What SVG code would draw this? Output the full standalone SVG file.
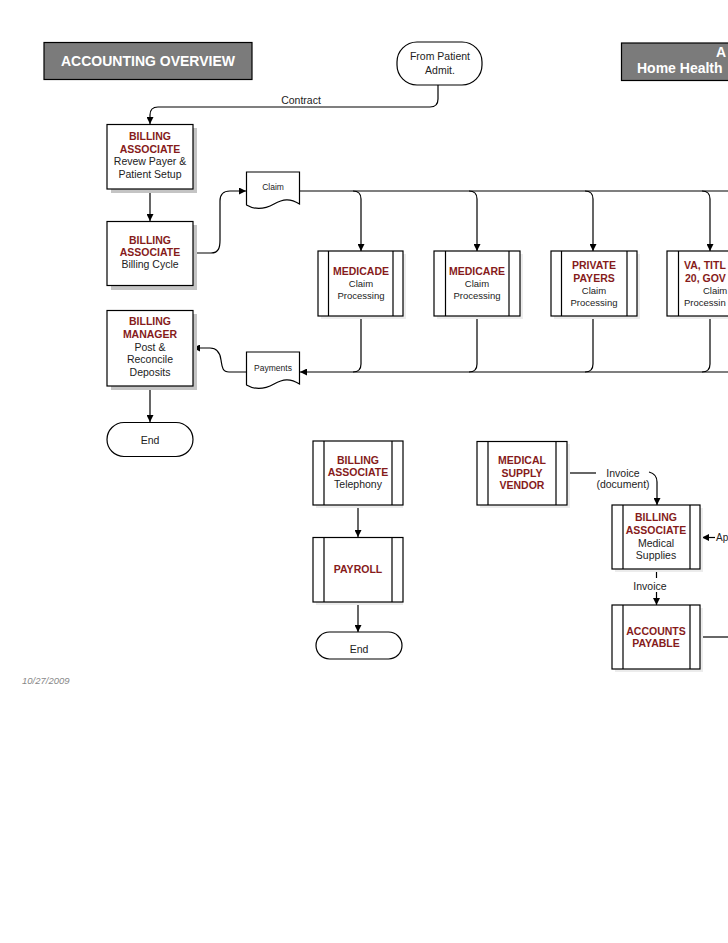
<svg xmlns="http://www.w3.org/2000/svg" width="728" height="943" viewBox="0 0 728 943">
<defs>
<marker id="arr" viewBox="0 0 10 10" refX="10" refY="5" markerWidth="7" markerHeight="7" markerUnits="userSpaceOnUse" orient="auto">
<path d="M0,0 L10,5 L0,10 Z" fill="#000"/>
</marker>
<style>
text{font-family:"Liberation Sans",Arial,sans-serif;}
.box{fill:#fff;stroke:#000;stroke-width:1.2;}
.sh{fill:#c4c4c4;}
.sh2{fill:#ececec;}
.ln{fill:none;stroke:#000;stroke-width:1.2;}
.t{font-size:10.5px;fill:#222;text-anchor:middle;}
.s{font-size:9.5px;fill:#222;text-anchor:middle;}
.b{font-size:10.5px;font-weight:bold;fill:#861b1b;text-anchor:middle;}
.h{font-size:14px;font-weight:bold;fill:#fff;}
.title{fill:#7b7b7b;stroke:#000;stroke-width:1.2;}
</style>
</defs>
<rect width="728" height="943" fill="#fff"/>

<g id="title-left">
<rect class="title" x="44" y="42.5" width="208" height="37"/>
<text class="h" x="148" y="66" text-anchor="middle">ACCOUNTING OVERVIEW</text>
</g>
<g id="title-right">
<rect class="title" x="621.5" y="43" width="120" height="37.5"/>
<text class="h" x="716" y="56.5">A</text>
<text class="h" x="637" y="72.5">Home Health</text>
</g>

<g id="connectors">
<path class="ln" d="M438,85 V99 Q438,107 430,107 H158 Q150,107 150,115 V124" marker-end="url(#arr)"/>
<path class="ln" d="M150,189 V221" marker-end="url(#arr)"/>
<path class="ln" d="M193,253 H211 C219,253 220,247 220,240 V201 C220,194 223,191 230,191 H246" marker-end="url(#arr)"/>
<path class="ln" d="M300,191 H728"/>
<path class="ln" d="M353,191 Q361,191 361,199 V251" marker-end="url(#arr)"/>
<path class="ln" d="M469,191 Q477,191 477,199 V251" marker-end="url(#arr)"/>
<path class="ln" d="M585,191 Q593,191 593,199 V251" marker-end="url(#arr)"/>
<path class="ln" d="M702,191 Q710,191 710,199 V251" marker-end="url(#arr)"/>
<path class="ln" d="M728,372 H300" marker-end="url(#arr)"/>
<path class="ln" d="M361,316 V364 Q361,372 353,372"/>
<path class="ln" d="M477,316 V364 Q477,372 469,372"/>
<path class="ln" d="M593,316 V364 Q593,372 585,372"/>
<path class="ln" d="M710,316 V364 Q710,372 702,372"/>
<path class="ln" d="M246,372 H229 C222,372 222,366 221,360 C220,352 217,348 210,348 H193" marker-end="url(#arr)"/>
<path class="ln" d="M150,386 V422" marker-end="url(#arr)"/>
<path class="ln" d="M358,505 V537" marker-end="url(#arr)"/>
<path class="ln" d="M358,602 V632" marker-end="url(#arr)"/>
<path class="ln" d="M567,473 H596"/>
<path class="ln" d="M649,472 Q657,474 657,482 V505" marker-end="url(#arr)"/>
<path class="ln" d="M715,537.5 H702" marker-end="url(#arr)"/>
<path class="ln" d="M656.5,569 V578"/>
<path class="ln" d="M656.5,592 V605" marker-end="url(#arr)"/>
<path class="ln" d="M700,637 H728"/>
<text class="t" x="301" y="103.5">Contract</text>
<text class="t" x="623" y="476.5">Invoice</text>
<text class="t" x="623" y="488">(document)</text>
<text class="t" x="650" y="589.5">Invoice</text>
<text class="t" x="716" y="541" style="text-anchor:start;font-size:10px">Ap</text>
</g>

<g id="from-patient">
<rect class="box" x="397" y="42" width="85" height="43" rx="20" ry="20"/>
<text class="t" x="440" y="60">From Patient</text>
<text class="t" x="440" y="73.5">Admit.</text>
</g>

<g id="billing-setup">
<rect class="sh" x="111" y="128" width="86" height="65"/>
<rect class="box" x="107" y="124.5" width="86" height="64.5"/>
<text class="b" x="150" y="140">BILLING</text>
<text class="b" x="150" y="152.5">ASSOCIATE</text>
<text class="t" x="150" y="165">Revew Payer &amp;</text>
<text class="t" x="150" y="178">Patient Setup</text>
</g>

<g id="billing-cycle">
<rect class="sh" x="111" y="225" width="86" height="65"/>
<rect class="box" x="107" y="221.5" width="86" height="64"/>
<text class="b" x="150" y="243.5">BILLING</text>
<text class="b" x="150" y="256">ASSOCIATE</text>
<text class="t" x="150" y="268">Billing Cycle</text>
</g>

<g id="claim-doc">
<path class="box" d="M246.5,172 H299.5 V204 C290,198 283,199 274,204 C265,209 255,210 246.5,205 Z"/>
<text class="s" x="273" y="189.5" style="font-size:8.5px">Claim</text>
</g>

<g id="payments-doc">
<path class="box" d="M246.5,352 H299.5 V384 C290,378 283,379 274,384 C265,389 255,390 246.5,385 Z"/>
<text class="s" x="273" y="370.5" style="font-size:8.5px">Payments</text>
</g>

<g id="billing-manager">
<rect class="sh" x="111" y="314" width="86" height="76"/>
<rect class="box" x="107" y="310.5" width="86" height="75.5"/>
<text class="b" x="150" y="325">BILLING</text>
<text class="b" x="150" y="337.5">MANAGER</text>
<text class="t" x="150" y="350.5">Post &amp;</text>
<text class="t" x="150" y="363">Reconcile</text>
<text class="t" x="150" y="375.5">Deposits</text>
</g>

<g id="end-left">
<rect class="box" x="107" y="422.5" width="86" height="34" rx="17" ry="17"/>
<text class="t" x="150" y="443.5">End</text>
</g>

<g id="medicade">
<rect class="sh2" x="321" y="254" width="85" height="65"/>
<rect class="box" x="318" y="251" width="85" height="65"/>
<path class="ln" d="M328.5,251 V316 M393,251 V316"/>
<text class="b" x="361" y="274.5">MEDICADE</text>
<text class="s" x="361" y="286.5">Claim</text>
<text class="s" x="361" y="298.5">Processing</text>
</g>

<g id="medicare">
<rect class="sh2" x="437" y="254" width="86" height="65"/>
<rect class="box" x="434" y="251" width="86" height="65"/>
<path class="ln" d="M445.5,251 V316 M509,251 V316"/>
<text class="b" x="477" y="274.5">MEDICARE</text>
<text class="s" x="477" y="286.5">Claim</text>
<text class="s" x="477" y="298.5">Processing</text>
</g>

<g id="private-payers">
<rect class="sh2" x="554" y="254" width="86" height="65"/>
<rect class="box" x="551" y="251" width="86" height="65"/>
<path class="ln" d="M561.5,251 V316 M627,251 V316"/>
<text class="b" x="594" y="268.5">PRIVATE</text>
<text class="b" x="594" y="281.5">PAYERS</text>
<text class="s" x="594" y="294">Claim</text>
<text class="s" x="594" y="306">Processing</text>
</g>

<g id="va-title">
<rect class="sh2" x="670" y="254" width="86" height="65"/>
<rect class="box" x="667" y="251" width="86" height="65"/>
<path class="ln" d="M678.5,251 V316"/>
<text class="b" x="684" y="268.5" style="text-anchor:start">VA, TITL</text>
<text class="b" x="685" y="281.5" style="text-anchor:start">20, GOV</text>
<text class="s" x="703" y="294" style="text-anchor:start">Claim</text>
<text class="s" x="684" y="306" style="text-anchor:start">Processin</text>
</g>

<g id="billing-telephony">
<rect class="sh2" x="316" y="444" width="87" height="64"/>
<rect class="box" x="313" y="441" width="90" height="64"/>
<path class="ln" d="M324,441 V505 M392,441 V505"/>
<text class="b" x="358" y="463.5">BILLING</text>
<text class="b" x="358" y="476">ASSOCIATE</text>
<text class="t" x="358" y="487.5">Telephony</text>
</g>

<g id="payroll">
<rect class="sh2" x="316" y="540" width="87" height="65"/>
<rect class="box" x="313" y="537.5" width="90" height="64.5"/>
<path class="ln" d="M324,537.5 V602 M392,537.5 V602"/>
<text class="b" x="358" y="573">PAYROLL</text>
</g>

<g id="end-right">
<rect class="box" x="316" y="632" width="86" height="27" rx="13.5" ry="13.5"/>
<text class="t" x="359" y="653">End</text>
</g>

<g id="medical-supply-vendor">
<rect class="sh2" x="480" y="444" width="90" height="64"/>
<rect class="box" x="477" y="441.5" width="90" height="63.5"/>
<path class="ln" d="M488,441.5 V505 M556,441.5 V505"/>
<text class="b" x="522" y="464">MEDICAL</text>
<text class="b" x="522" y="476.5">SUPPLY</text>
<text class="b" x="522" y="488.5">VENDOR</text>
</g>

<g id="billing-medical">
<rect class="sh2" x="615" y="508" width="88" height="64"/>
<rect class="box" x="612" y="505" width="88" height="64"/>
<path class="ln" d="M623,505 V569 M690,505 V569"/>
<text class="b" x="656" y="521">BILLING</text>
<text class="b" x="656" y="533.5">ASSOCIATE</text>
<text class="t" x="656" y="546.5">Medical</text>
<text class="t" x="656" y="558.5">Supplies</text>
</g>

<g id="accounts-payable">
<rect class="sh2" x="615" y="608" width="88" height="64"/>
<rect class="box" x="612" y="605" width="88" height="64"/>
<path class="ln" d="M623,605 V669 M690,605 V669"/>
<text class="b" x="656" y="634.5">ACCOUNTS</text>
<text class="b" x="656" y="647">PAYABLE</text>
</g>

<g id="date">
<text x="22" y="684" style="font-size:9.5px;font-style:italic;fill:#888">10/27/2009</text>
</g>
</svg>
